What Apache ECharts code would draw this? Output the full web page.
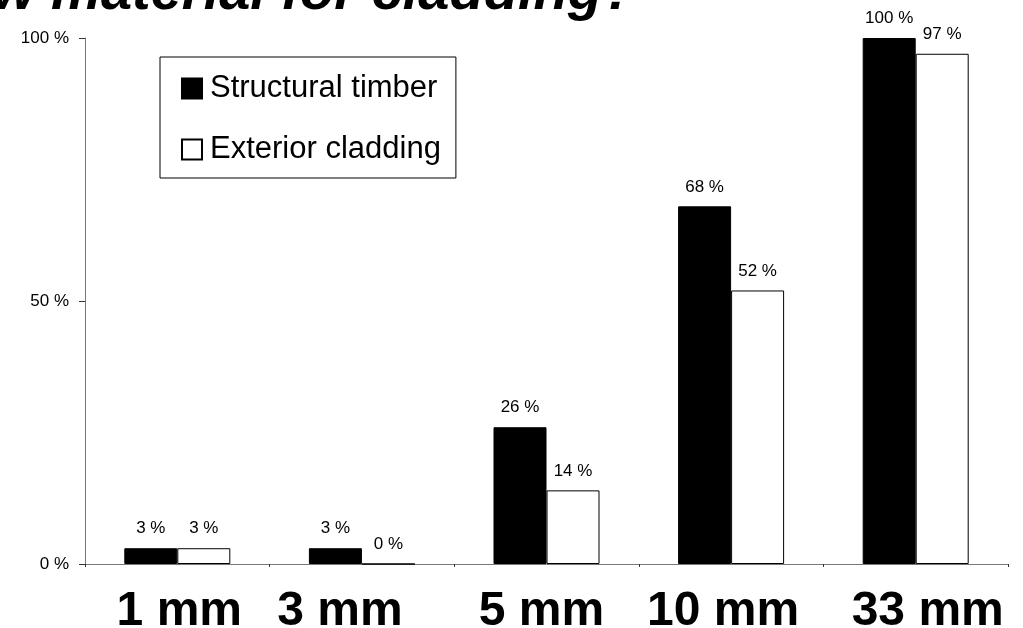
<!DOCTYPE html>
<html>
<head>
<meta charset="utf-8">
<script src="https://cdn.jsdelivr.net/npm/echarts@6/dist/echarts.min.js"></script>
<style>
html,body{margin:0;padding:0;background:#fff;overflow:hidden;}
#chart{width:1023px;height:628px;}
</style>
</head>
<body>
<div id="chart"></div>
<script>
const categories = ['1 mm', '3 mm', '5 mm', '10 mm', '33 mm'];
const structuralTimber = [3, 3, 26, 68, 100];
const exteriorCladding = [3, 0, 14, 52, 97];
const yTicks = [0, 50, 100];
const titleText = 'w material for cladding?';

// horizontal nudges of category labels (px), layout only
const labelShift = [2, -22, -5, -8, 12];

const font = '"Liberation Sans", Arial, sans-serif';
const chart = echarts.init(document.getElementById('chart'), null, {renderer: 'canvas'});

const xData = categories.map((c, i) => {
  const s = labelShift[i];
  return {
    value: c,
    textStyle: { padding: s < 0 ? [0, -2 * s, 0, 0] : [0, 0, 0, 2 * s] }
  };
});

const valueLabel = {
  show: true,
  position: 'top',
  distance: 11,
  formatter: p => p.value + ' %',
  color: '#000',
  fontFamily: font,
  fontSize: 17
};

chart.setOption({
  animation: false,
  backgroundColor: '#fff',
  graphic: [{
    type: 'text',
    left: -8,
    top: -34,
    style: {
      text: titleText,
      font: 'italic bold 56px ' + font,
      fill: '#000'
    }
  }],
  legend: {
    orient: 'vertical',
    left: 160,
    top: 57,
    padding: [16, 15, 13, 21],
    borderColor: '#000',
    borderWidth: 1,
    itemWidth: 20,
    itemHeight: 20,
    itemGap: 30,
    icon: 'rect',
    textStyle: { fontFamily: font, fontSize: 31, color: '#000', lineHeight: 30, padding: [0, 0, 0, 3] },
    data: ['Structural timber', 'Exterior cladding']
  },
  grid: { left: 85, right: 15, top: 38, bottom: 64, containLabel: false, outerBoundsMode: 'none' },
  xAxis: {
    type: 'category',
    data: xData,
    axisLine: { lineStyle: { color: '#777', width: 1 } },
    axisTick: { show: true, length: 3, lineStyle: { color: '#333' } },
    axisLabel: { interval: 0, hideOverlap: false, margin: 24, fontFamily: font, fontSize: 48, fontWeight: 'bold', color: '#000' }
  },
  yAxis: {
    type: 'value',
    min: 0,
    max: 100,
    interval: 50,
    axisLine: { show: true, lineStyle: { color: '#777', width: 1 } },
    axisTick: { show: true, length: 6, lineStyle: { color: '#333' } },
    splitLine: { show: false },
    axisLabel: {
      margin: 16,
      fontFamily: font,
      fontSize: 17,
      color: '#000',
      formatter: v => (yTicks.indexOf(v) >= 0 ? v + ' %' : '')
    }
  },
  series: [
    {
      name: 'Structural timber',
      type: 'bar',
      data: structuralTimber,
      barWidth: 53,
      barGap: '0%',
      itemStyle: { color: '#000', borderColor: '#000', borderWidth: 1 },
      label: valueLabel
    },
    {
      name: 'Exterior cladding',
      type: 'bar',
      data: exteriorCladding,
      barWidth: 53,
      barGap: '0%',
      itemStyle: { color: '#fff', borderColor: '#000', borderWidth: 1 },
      label: valueLabel
    }
  ]
});
</script>
</body>
</html>
